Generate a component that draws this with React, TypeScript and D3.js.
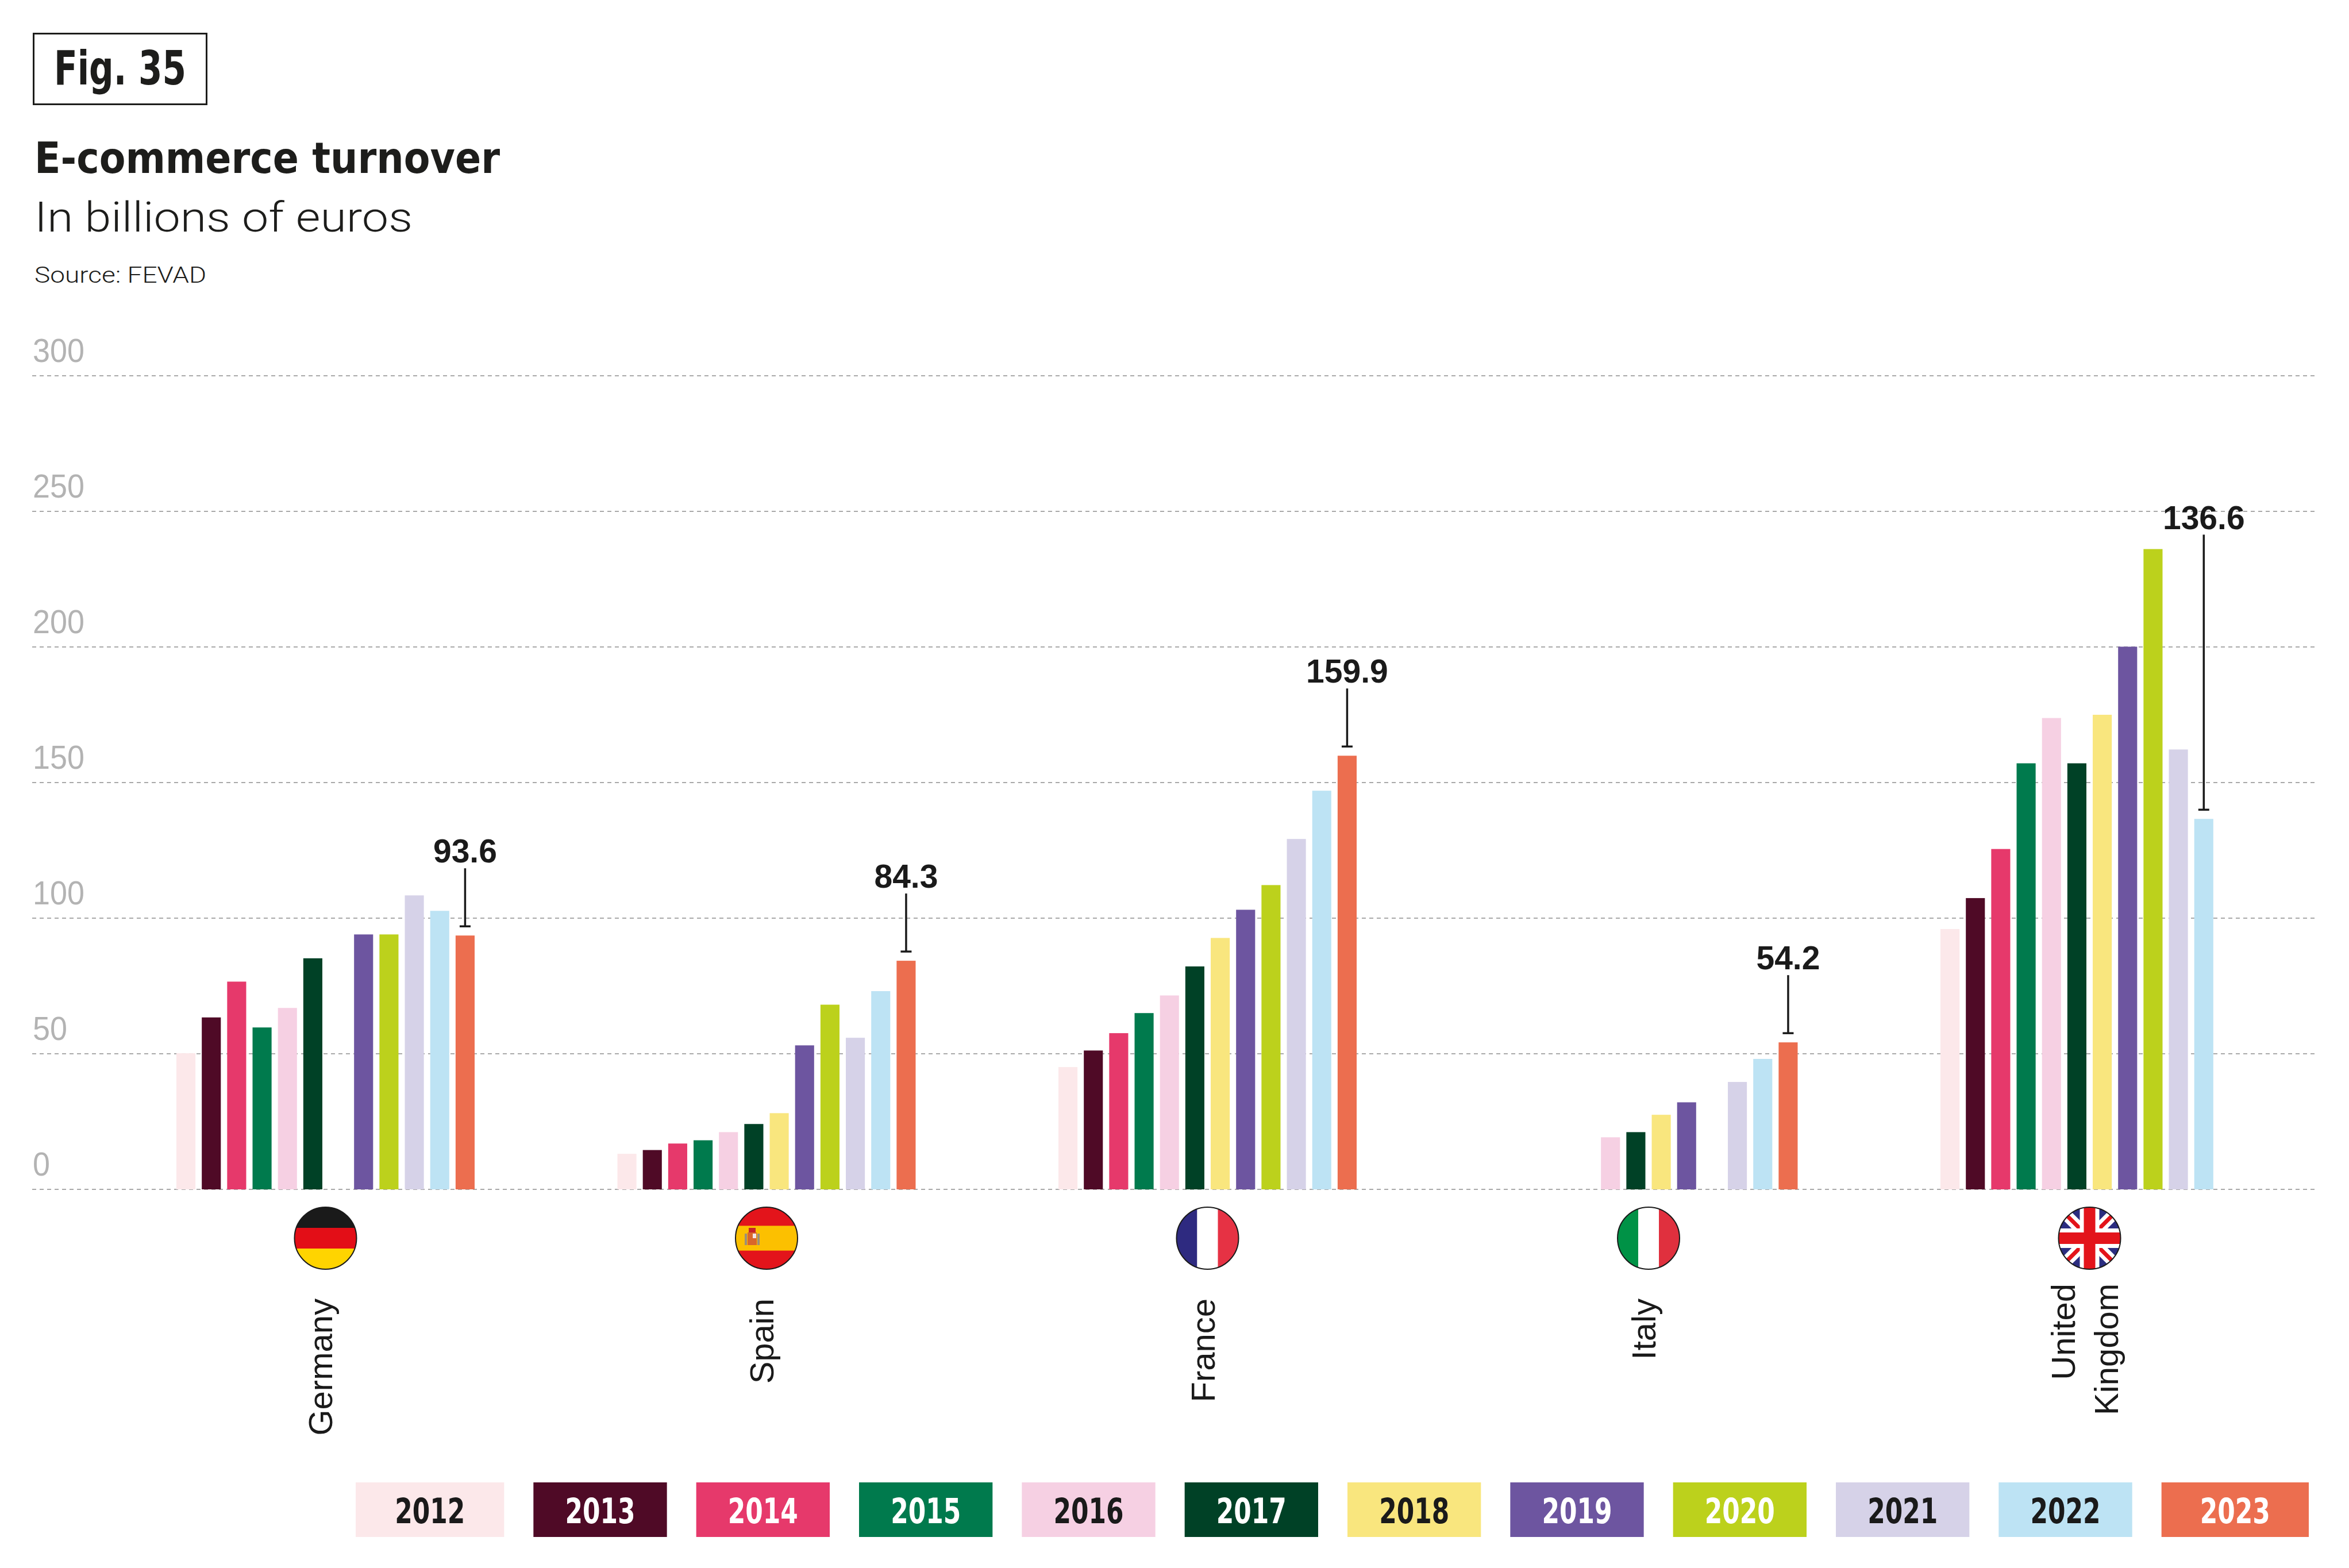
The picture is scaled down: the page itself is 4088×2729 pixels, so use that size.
import React from "react";
import * as d3 from "d3";

// chart data (billions of euros)
const countries = ["Germany", "Spain", "France", "Italy", "United Kingdom"];
const countryLines = [["Germany"], ["Spain"], ["France"], ["Italy"], ["United", "Kingdom"]];
const years = ["2012", "2013", "2014", "2015", "2016", "2017", "2018", "2019", "2020", "2021", "2022", "2023"];

const germany = [50.2, 63.4, 76.6, 59.7, 66.9, 85.2, null, 94.0, 94.0, 108.4, 102.7, 93.6];
const spain = [13.1, 14.5, 16.9, 18.1, 21.1, 24.1, 28.1, 53.1, 68.1, 55.9, 73.1, 84.3];
const france = [45.1, 51.2, 57.6, 65.0, 71.5, 82.2, 92.7, 103.1, 112.2, 129.2, 147.0, 159.9];
const italy = [null, null, null, null, 19.2, 21.1, 27.5, 32.1, null, 39.6, 48.1, 54.2];
const uk = [96.0, 107.4, 125.5, 157.1, 173.8, 157.1, 175.0, 200.1, 236.1, 162.2, 136.6, null];
const series: (number | null)[][] = [germany, spain, france, italy, uk];

const yTicks = [0, 50, 100, 150, 200, 250, 300];

const yearColors = [
  "#fce8ea", "#4f0a26", "#e6396b", "#007a4d", "#f6d0e3", "#004126",
  "#f9e67e", "#6d55a0", "#bcd11c", "#d6d2e8", "#bde3f4", "#ec6e4f",
];
const legendText = [
  "#1a1a1a", "#ffffff", "#ffffff", "#ffffff", "#1a1a1a", "#ffffff",
  "#1a1a1a", "#ffffff", "#ffffff", "#1a1a1a", "#1a1a1a", "#ffffff",
];

const W = 4088;
const H = 2729;
const INK = "#1d1d1b";
const NARROW = "'Liberation Sans Narrow', 'DejaVu Sans Condensed', 'Liberation Sans', sans-serif";
const SANS = "'Liberation Sans', Arial, sans-serif";
const LIGHT = "Roboto, 'Open Sans', Lato, sans-serif";

const x = d3.scaleBand<string>().domain(countries).range([307, 3896]).paddingInner(0.3238).paddingOuter(0);
const xYear = d3.scaleBand<string>().domain(years).range([0, x.bandwidth()]).paddingInner(0.25).paddingOuter(0);
const y = d3.scaleLinear().domain([0, 300]).range([2070, 654]);
const legendX = d3.scaleBand<string>().domain(years).range([645, 3994]).paddingInner(0.18).paddingOuter(0);

const FLAG_Y = 2155;
const FLAG_R = 54;

const Flag: React.FC<{ country: string; cx: number; id: string }> = ({ country, cx, id }) => {
  const r = FLAG_R;
  const x0 = cx - r;
  const y0 = FLAG_Y - r;
  const d = 2 * r;
  let body: React.ReactNode = null;
  if (country === "Germany") {
    body = (
      <>
        <rect x={x0} y={y0} width={d} height={d / 3} fill="#1a1a1a" />
        <rect x={x0} y={y0 + d / 3} width={d} height={d / 3} fill="#e30e17" />
        <rect x={x0} y={y0 + (2 * d) / 3} width={d} height={d / 3} fill="#ffd400" />
      </>
    );
  } else if (country === "Spain") {
    body = (
      <>
        <rect x={x0} y={y0} width={d} height={d} fill="#e3141b" />
        <rect x={x0} y={y0 + d * 0.3} width={d} height={d * 0.4} fill="#fcc000" />
        <rect x={cx - 33} y={FLAG_Y - 10} width={16} height={22} fill="#d9662b" />
        <rect x={cx - 31} y={FLAG_Y - 18} width={12} height={8} fill="#c7232b" />
        <rect x={cx - 38} y={FLAG_Y - 8} width={4} height={20} fill="#9b8f7a" />
        <rect x={cx - 16} y={FLAG_Y - 8} width={4} height={20} fill="#9b8f7a" />
        <rect x={cx - 24} y={FLAG_Y - 8} width={6} height={8} fill="#f2e6e6" />
      </>
    );
  } else if (country === "France") {
    body = (
      <>
        <rect x={x0} y={y0} width={d / 3} height={d} fill="#2e2a80" />
        <rect x={x0 + d / 3} y={y0} width={d / 3} height={d} fill="#ffffff" />
        <rect x={x0 + (2 * d) / 3} y={y0} width={d / 3} height={d} fill="#e63244" />
      </>
    );
  } else if (country === "Italy") {
    body = (
      <>
        <rect x={x0} y={y0} width={d / 3} height={d} fill="#009246" />
        <rect x={x0 + d / 3} y={y0} width={d / 3} height={d} fill="#ffffff" />
        <rect x={x0 + (2 * d) / 3} y={y0} width={d / 3} height={d} fill="#e0303e" />
      </>
    );
  } else {
    body = (
      <>
        <rect x={x0} y={y0} width={d} height={d} fill="#2b2d80" />
        <line x1={x0} y1={y0} x2={x0 + d} y2={y0 + d} stroke="#fff" strokeWidth={20} />
        <line x1={x0 + d} y1={y0} x2={x0} y2={y0 + d} stroke="#fff" strokeWidth={20} />
        <line x1={x0} y1={y0} x2={x0 + d} y2={y0 + d} stroke="#e3141b" strokeWidth={7} />
        <line x1={x0 + d} y1={y0} x2={x0} y2={y0 + d} stroke="#e3141b" strokeWidth={7} />
        <rect x={cx - 17} y={y0} width={34} height={d} fill="#fff" />
        <rect x={x0} y={FLAG_Y - 17} width={d} height={34} fill="#fff" />
        <rect x={cx - 10} y={y0} width={20} height={d} fill="#e3141b" />
        <rect x={x0} y={FLAG_Y - 10} width={d} height={20} fill="#e3141b" />
      </>
    );
  }
  return (
    <g>
      <clipPath id={id}>
        <circle cx={cx} cy={FLAG_Y} r={r} />
      </clipPath>
      <g clipPath={`url(#${id})`}>{body}</g>
      <circle cx={cx} cy={FLAG_Y} r={r} fill="none" stroke="#1a1a1a" strokeWidth={2} />
    </g>
  );
};

export default function App() {
  return (
    <svg
      width={W}
      height={H}
      viewBox={`0 0 ${W} ${H}`}
      style={{ position: "absolute", left: 0, top: 0, background: "#fff" }}
    >
      <rect width={W} height={H} fill="#fff" />

      {/* header */}
      <rect x={58.5} y={58.5} width={301} height={123} fill="none" stroke={INK} strokeWidth={3} />
      <text x={94} y={147} fontFamily={NARROW} fontWeight={700} fontSize={82} fill={INK}
        textLength={230} lengthAdjust="spacingAndGlyphs">Fig. 35</text>
      <text x={60} y={301} fontFamily={NARROW} fontWeight={700} fontSize={75} fill={INK}
        textLength={810} lengthAdjust="spacingAndGlyphs">E-commerce turnover</text>
      <text x={60} y={403} fontFamily={LIGHT} fontWeight={300} fontSize={73} fill={INK}
        textLength={658} lengthAdjust="spacingAndGlyphs">In billions of euros</text>
      <text x={60} y={492} fontFamily={LIGHT} fontWeight={300} fontSize={38} fill={INK}
        textLength={299} lengthAdjust="spacingAndGlyphs">Source: FEVAD</text>

      {/* grid + y labels */}
      {yTicks.map((t) => (
        <g key={t}>
          <line x1={56} x2={4030} y1={y(t)} y2={y(t)} stroke="#a9a9a9" strokeWidth={2.2} strokeDasharray="7 6" />
          <text x={57} y={y(t) - 24} fontFamily={SANS} fontSize={57} fill="#b3b3b3"
            textLength={String(t).length * 30} lengthAdjust="spacingAndGlyphs">{t}</text>
        </g>
      ))}

      {/* bars */}
      {countries.map((c, ci) => (
        <g key={c} transform={`translate(${x(c)},0)`}>
          {series[ci].map((v, yi) =>
            v == null ? null : (
              <rect
                key={years[yi]}
                x={xYear(years[yi])}
                y={y(v)}
                width={xYear.bandwidth()}
                height={y(0) - y(v)}
                fill={yearColors[yi]}
              />
            )
          )}
        </g>
      ))}

      {/* value callouts on the latest year of each country */}
      {countries.map((c, ci) => {
        const vals = series[ci];
        let last = vals.length - 1;
        while (last >= 0 && vals[last] == null) last--;
        const v = vals[last] as number;
        const groupMax = d3.max(vals, (d) => (d == null ? undefined : d)) as number;
        const cx = (x(c) as number) + (xYear(years[last]) as number) + xYear.bandwidth() / 2;
        const tickY = y(v) - 16;
        const top = Math.min(tickY - 101, y(groupMax) - 25);
        return (
          <g key={c}>
            <line x1={cx} x2={cx} y1={top} y2={tickY} stroke="#1a1a1a" strokeWidth={3.5} />
            <line x1={cx - 9.5} x2={cx + 9.5} y1={tickY} y2={tickY} stroke="#1a1a1a" strokeWidth={3.5} />
            <text x={cx} y={top - 10} textAnchor="middle" fontFamily={SANS} fontWeight={700} fontSize={57} fill="#1a1a1a">
              {v.toFixed(1)}
            </text>
          </g>
        );
      })}

      {/* flags and country names */}
      {countries.map((c, ci) => {
        const cx = (x(c) as number) + x.bandwidth() / 2;
        const lines = countryLines[ci];
        const n = lines.length;
        const topY = 2260 - (n - 1) * 26;
        return (
          <g key={c}>
            <Flag country={c} cx={cx} id={`flag-${ci}`} />
            {lines.map((ln, li) => {
              const bx = cx + 12 + (li - (n - 1) / 2) * 75;
              return (
                <text key={ln} transform={`translate(${bx},${topY}) rotate(-90)`} textAnchor="end"
                  fontFamily={SANS} fontSize={58} fill="#1a1a1a">
                  {ln}
                </text>
              );
            })}
          </g>
        );
      })}

      {/* legend */}
      {years.map((yr, i) => {
        const bx = legendX(yr) as number;
        const left = i === 0 ? bx - 26 : bx;
        const w = legendX.bandwidth() + (i === 0 ? 26 : 0) + (i === years.length - 1 ? 24 : 0);
        return (
          <g key={yr}>
            <rect x={left} y={2580} width={w} height={95} fill={yearColors[i]} />
            <text x={left + w / 2} y={2651} textAnchor="middle" fontFamily={NARROW} fontWeight={700}
              fontSize={60} fill={legendText[i]} textLength={122} lengthAdjust="spacingAndGlyphs">
              {yr}
            </text>
          </g>
        );
      })}
    </svg>
  );
}
